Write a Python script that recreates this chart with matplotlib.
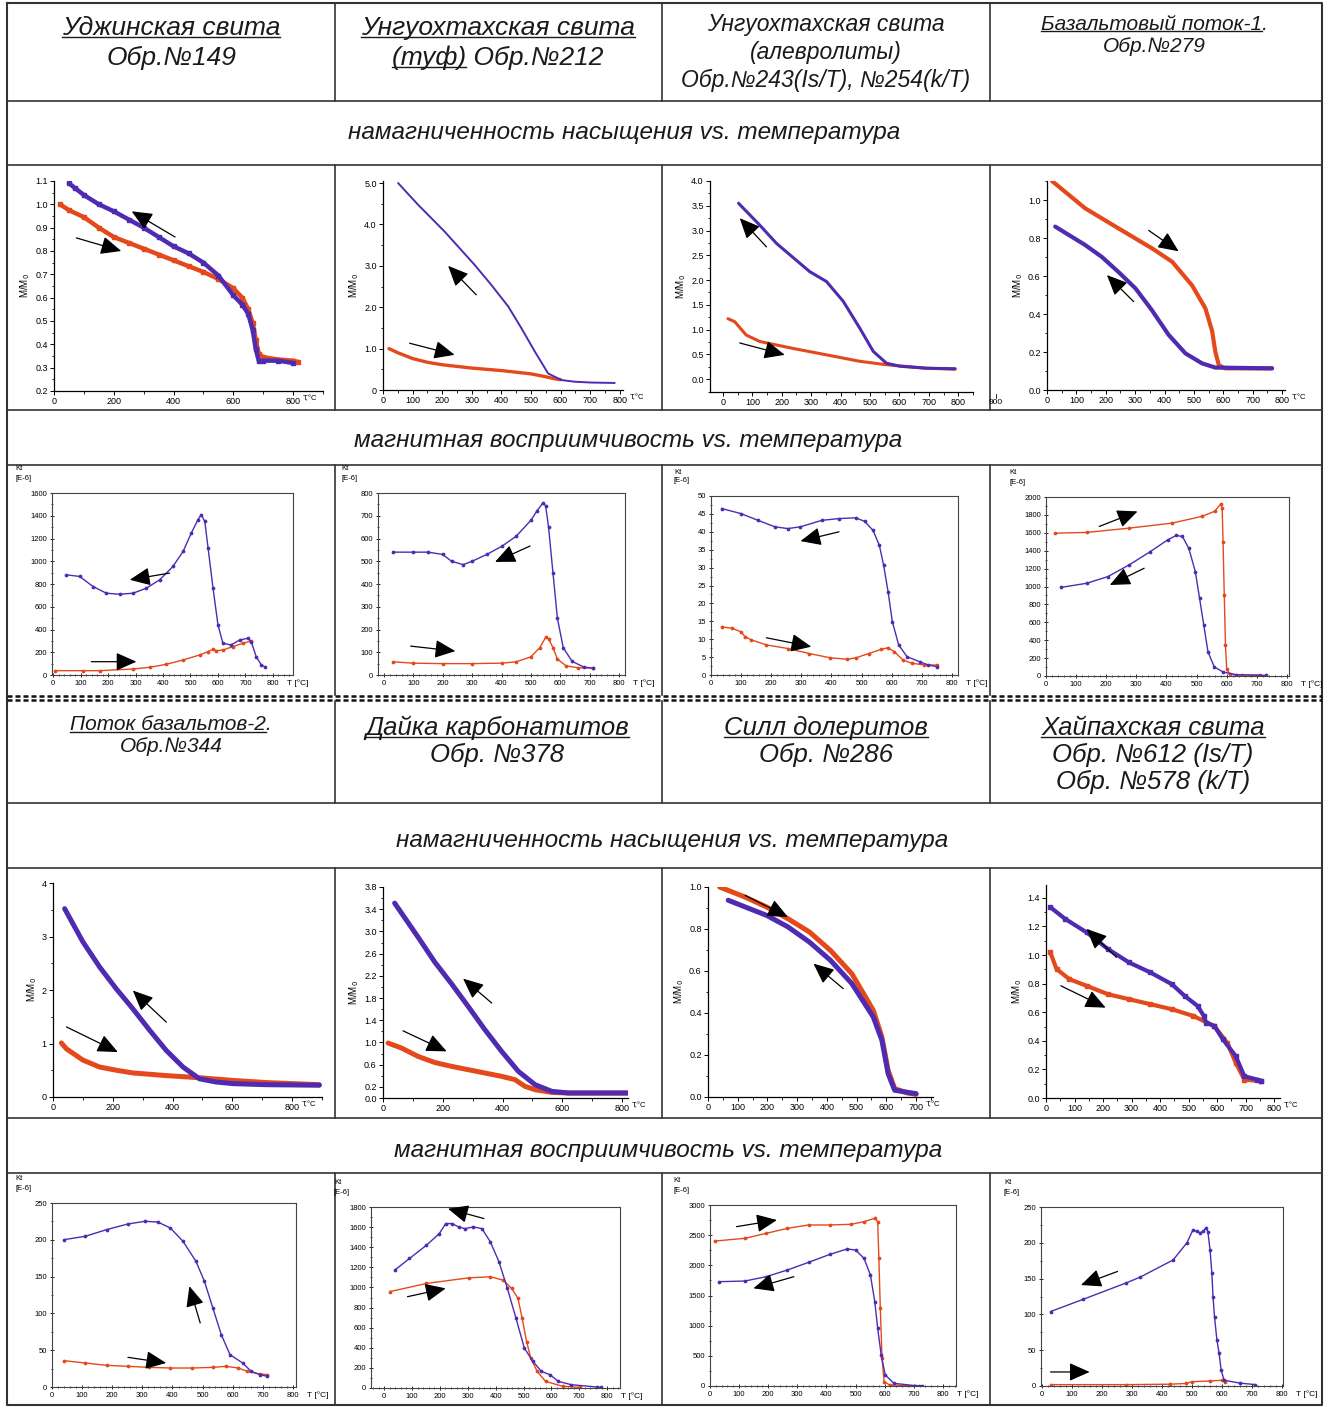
import matplotlib
matplotlib.use("Agg")
import matplotlib.pyplot as plt
from matplotlib.lines import Line2D
from matplotlib.ticker import MultipleLocator, FixedLocator, FormatStrFormatter, FuncFormatter

# ─────────────────────────────────────────────
# DATA
# heat = нагрев (orange), cool = охлаждение (purple)
# ─────────────────────────────────────────────
# 1. Уджинская свита, Is(T)
p1_heat_t = [20, 50, 100, 150, 200, 250, 300, 350, 400, 450, 500, 550, 600, 630, 650, 665, 675, 685, 700, 750, 800, 815]
p1_heat_v = [1.0, 0.975, 0.945, 0.9, 0.86, 0.835, 0.81, 0.785, 0.76, 0.735, 0.71, 0.68, 0.64, 0.6, 0.55, 0.49, 0.42, 0.36, 0.345, 0.335, 0.33, 0.325]
p1_cool_t = [800, 750, 700, 685, 675, 665, 650, 630, 600, 550, 500, 450, 400, 350, 300, 250, 200, 150, 100, 70, 50]
p1_cool_v = [0.32, 0.33, 0.33, 0.33, 0.38, 0.46, 0.53, 0.57, 0.61, 0.695, 0.75, 0.79, 0.82, 0.86, 0.9, 0.935, 0.97, 1.0, 1.04, 1.07, 1.09]
p1_arrows = [((405, 0.86), (260, 0.97)), ((75, 0.856), (225, 0.80))]

# 2. Унгуохтахская свита (туф), Is(T)
p2_heat_t = [20, 50, 100, 150, 200, 250, 300, 400, 500, 550, 580, 600]
p2_heat_v = [1.0, 0.9, 0.76, 0.67, 0.61, 0.57, 0.53, 0.47, 0.39, 0.32, 0.27, 0.25]
p2_cool_t = [783, 704, 648, 603, 558, 513, 468, 423, 366, 310, 208, 118, 51]
p2_cool_v = [0.17, 0.18, 0.2, 0.24, 0.4, 0.93, 1.49, 2.02, 2.54, 3.02, 3.83, 4.48, 5.0]
p2_arrows = [((315, 2.3), (220, 3.0)), ((90, 1.13), (242, 0.85))]

# 3. Унгуохтахская свита (алевролиты), Is(T)
p3_heat_t = [17, 40, 79, 125, 238, 352, 465, 556, 692, 789]
p3_heat_v = [1.22, 1.16, 0.89, 0.76, 0.62, 0.49, 0.36, 0.29, 0.22, 0.2]
p3_cool_t = [789, 692, 602, 556, 511, 465, 409, 352, 295, 182, 125, 53]
p3_cool_v = [0.21, 0.22, 0.26, 0.32, 0.56, 1.03, 1.57, 1.97, 2.17, 2.74, 3.11, 3.55]
p3_arrows = [((148, 2.67), (57, 3.25)), ((57, 0.73), (210, 0.49))]

# 4. Базальтовый поток-1, Is(T)
p4_heat_t = [17, 130, 244, 357, 426, 494, 539, 562, 573, 585, 607, 766]
p4_heat_v = [1.1, 0.956, 0.85, 0.746, 0.675, 0.55, 0.43, 0.31, 0.2, 0.13, 0.114, 0.114]
p4_cool_t = [766, 573, 528, 471, 414, 357, 301, 244, 187, 130, 28]
p4_cool_v = [0.114, 0.118, 0.14, 0.193, 0.29, 0.42, 0.535, 0.62, 0.7, 0.763, 0.86]
p4_arrows = [((346, 0.84), (448, 0.73)), ((295, 0.465), (204, 0.605))]

# 5. Уджинская свита, k(T)
p5_heat_t = [6, 109, 170, 291, 352, 412, 473, 533, 564, 582, 594, 618, 655, 691, 721]
p5_heat_v = [38, 38, 38, 53, 68, 94, 132, 176, 206, 226, 214, 220, 250, 279, 300]
p5_cool_t = [770, 758, 739, 721, 709, 679, 648, 618, 600, 582, 564, 552, 539, 527, 503, 473, 436, 388, 339, 291, 242, 194, 145, 97, 48]
p5_cool_v = [73, 88, 161, 294, 323, 308, 264, 279, 440, 763, 1116, 1350, 1409, 1365, 1248, 1086, 954, 837, 763, 719, 710, 719, 778, 866, 881]
p5_arrows = [((424, 896), (279, 837)), ((139, 117), (303, 117))]

# 6. Унгуохтахская свита (туф), k(T)
p6_heat_t = [30, 100, 200, 300, 400, 450, 500, 530, 550, 560, 575, 590, 620, 660, 710]
p6_heat_v = [58, 52, 50, 50, 52, 58, 80, 120, 165, 160, 120, 70, 40, 32, 30]
p6_cool_t = [710, 680, 640, 610, 590, 575, 560, 550, 540, 520, 500, 450, 400, 350, 300, 270, 230, 200, 150, 100, 30]
p6_cool_v = [30, 35, 60, 120, 250, 450, 650, 745, 755, 720, 680, 610, 565, 530, 500, 485, 500, 530, 540, 540, 540]
p6_arrows = [((497, 567), (378, 497)), ((91, 127), (243, 105))]

# 7. Унгуохтахская свита (алевролиты), k(T)
p7_heat_t = [35, 71, 99, 113, 134, 184, 255, 326, 396, 453, 481, 524, 566, 588, 609, 637, 666, 708, 750]
p7_heat_v = [13.5, 13.0, 12.1, 10.7, 9.8, 8.4, 7.4, 6.0, 4.8, 4.4, 4.8, 6.0, 7.2, 7.6, 6.5, 4.2, 3.3, 2.8, 2.8]
p7_cool_t = [750, 722, 693, 651, 623, 602, 588, 573, 559, 538, 510, 481, 425, 368, 297, 255, 212, 156, 99, 35]
p7_cool_v = [2.3, 2.8, 3.7, 5.1, 8.4, 14.9, 23.2, 30.7, 36.2, 40.4, 42.9, 43.9, 43.7, 43.2, 41.4, 40.9, 41.4, 43.2, 45.1, 46.5]
p7_arrows = [((425, 40.0), (297, 37.4)), ((184, 10.4), (333, 7.9))]

# 8. Базальтовый поток-1, k(T)
p8_heat_t = [30, 135, 276, 418, 517, 560, 580, 585, 588, 592, 596, 600, 610, 650, 710]
p8_heat_v = [1596, 1604, 1652, 1708, 1783, 1840, 1920, 1880, 1500, 900, 350, 80, 20, 10, 10]
p8_cool_t = [729, 630, 588, 559, 538, 524, 510, 496, 474, 453, 432, 404, 347, 276, 205, 135, 50]
p8_cool_v = [7, 15, 45, 101, 269, 568, 867, 1166, 1428, 1559, 1570, 1521, 1391, 1241, 1110, 1036, 990]
p8_arrows = [((177, 1671), (304, 1839)), ((326, 1204), (212, 1017))]

# 9. Поток базальтов-2, Is(T)
p9_heat_t = [28, 45, 100, 156, 212, 267, 379, 490, 602, 713, 891]
p9_heat_v = [1.01, 0.9, 0.69, 0.56, 0.5, 0.45, 0.4, 0.36, 0.31, 0.27, 0.23]
p9_cool_t = [891, 713, 602, 546, 490, 435, 379, 323, 267, 212, 156, 100, 39]
p9_cool_v = [0.22, 0.23, 0.25, 0.28, 0.34, 0.56, 0.87, 1.25, 1.65, 2.02, 2.43, 2.9, 3.52]
p9_arrows = [((379, 1.40), (267, 1.99)), ((45, 1.31), (217, 0.84))]

# 10. Дайка карбонатитов, Is(T)
p10_heat_t = [17, 62, 117, 173, 229, 285, 341, 397, 442, 475, 509, 565, 621, 822]
p10_heat_v = [0.99, 0.9, 0.75, 0.64, 0.57, 0.51, 0.45, 0.39, 0.33, 0.21, 0.15, 0.1, 0.09, 0.09]
p10_cool_t = [822, 621, 565, 509, 453, 397, 341, 285, 229, 173, 117, 39]
p10_cool_v = [0.09, 0.09, 0.12, 0.24, 0.48, 0.84, 1.23, 1.65, 2.06, 2.45, 2.9, 3.51]
p10_arrows = [((364, 1.71), (268, 2.15)), ((67, 1.21), (213, 0.84))]

# 11. Силл долеритов, Is(T)
p11_heat_t = [39, 125, 197, 269, 341, 412, 484, 556, 585, 606, 628, 671, 700]
p11_heat_v = [1.0, 0.952, 0.905, 0.849, 0.786, 0.698, 0.587, 0.413, 0.286, 0.127, 0.04, 0.019, 0.013]
p11_cool_t = [700, 628, 606, 585, 556, 484, 412, 341, 269, 197, 125, 68]
p11_cool_v = [0.016, 0.032, 0.111, 0.27, 0.381, 0.54, 0.651, 0.738, 0.81, 0.865, 0.905, 0.937]
p11_arrows = [((125, 0.96), (269, 0.857)), ((455, 0.516), (355, 0.635))]

# 12. Хайпахская свита, Is(T)
p12_heat_t = [15, 37, 82, 142, 217, 291, 366, 441, 516, 590, 635, 665, 695, 755]
p12_heat_v = [1.019, 0.902, 0.831, 0.785, 0.726, 0.691, 0.656, 0.621, 0.574, 0.503, 0.386, 0.246, 0.129, 0.117]
p12_cool_t = [755, 740, 695, 665, 620, 590, 561, 553, 531, 486, 441, 366, 291, 217, 142, 67, 15]
p12_cool_v = [0.12, 0.129, 0.152, 0.293, 0.41, 0.503, 0.527, 0.574, 0.644, 0.714, 0.796, 0.878, 0.948, 1.042, 1.159, 1.253, 1.335]
p12_arrows = [((247, 0.984), (142, 1.183)), ((52, 0.785), (209, 0.632))]

# 13. Поток базальтов-2, k(T)
p13_heat_t = [40, 110, 181, 252, 322, 393, 464, 534, 577, 619, 647, 690, 715]
p13_heat_v = [35.8, 32.6, 29.4, 28.1, 26.7, 25.8, 25.8, 26.7, 28.1, 25.8, 21.3, 17.7, 16.8]
p13_cool_t = [715, 690, 661, 633, 591, 562, 534, 506, 478, 435, 393, 351, 308, 252, 181, 110, 40]
p13_cool_v = [14.5, 16.8, 21.3, 32.6, 43.9, 71.1, 107.3, 143.6, 170.7, 197.9, 216, 224.2, 225.1, 221.5, 213.8, 204.7, 200.2]
p13_arrows = [((492, 87), (456, 137)), ((252, 40.3), (379, 32.6))]

# 14. Дайка карбонатитов, k(T)
p14_heat_t = [20, 152, 305, 381, 427, 457, 480, 495, 511, 526, 549, 579, 640, 701]
p14_heat_v = [958, 1040, 1096, 1106, 1073, 991, 892, 694, 462, 297, 165, 66, 17, 7]
p14_cool_t = [777, 762, 671, 625, 595, 564, 534, 503, 473, 442, 412, 381, 351, 320, 290, 267, 244, 221, 198, 152, 91, 38]
p14_cool_v = [7, 10, 33, 66, 132, 165, 264, 396, 694, 991, 1255, 1453, 1585, 1602, 1585, 1602, 1635, 1635, 1536, 1420, 1288, 1172]
p14_arrows = [((358, 1685), (229, 1783)), ((84, 908), (221, 991))]

# 15. Силл долеритов, k(T)
p15_heat_t = [18, 120, 193, 266, 339, 412, 485, 529, 566, 576, 580, 585, 591, 598, 617, 719]
p15_heat_v = [2403, 2448, 2530, 2613, 2669, 2669, 2680, 2724, 2779, 2724, 2116, 1287, 459, 72, 17, 0]
p15_cool_t = [727, 705, 632, 602, 588, 576, 566, 551, 529, 500, 471, 412, 339, 266, 193, 120, 32]
p15_cool_v = [6, 6, 44, 182, 514, 956, 1398, 1840, 2116, 2254, 2271, 2182, 2050, 1923, 1812, 1740, 1729]
p15_arrows = [((91, 2641), (230, 2751)), ((288, 1812), (149, 1619))]

# 16. Хайпахская свита, k(T)
p16_heat_t = [29, 281, 425, 480, 500, 560, 600, 610]
p16_heat_v = [1.9, 1.9, 2.5, 3.5, 6, 7, 8, 6]
p16_cool_t = [710, 660, 607, 597, 590, 583, 575, 570, 566, 560, 553, 547, 537, 527, 515, 503, 483, 437, 327, 281, 137, 29]
p16_cool_v = [2, 4, 8, 22, 46, 64, 96, 124, 158, 190, 215, 221, 216, 214, 216, 218, 200, 176, 152, 144, 121, 104]
p16_arrows = [((252, 160), (130, 141)), ((29, 19.6), (159, 19.6))]

# ─────────────────────────────────────────────
# STYLE / LAYOUT
# ─────────────────────────────────────────────
W, H = 1329, 1408
ORANGE = '#E4491C'
PURPLE = '#4F2BB2'
GRID = '#333333'
plt.rcParams['font.family'] = ['Liberation Sans', 'DejaVu Sans']

fig = plt.figure(figsize=(W / 100, H / 100), dpi=100)


def fx(x):
    return x / W


def fy(y):
    return 1 - y / H


def line(xs, ys, lw=1.2, color=GRID, **kw):
    fig.add_artist(Line2D([fx(x) for x in xs], [fy(y) for y in ys],
                          transform=fig.transFigure, color=color, lw=lw, **kw))


def make_axes(box):
    x0, y0, x1, y1 = box
    return fig.add_axes([fx(x0), fy(y1), (x1 - x0) / W, (y1 - y0) / H])


def draw_arrows(ax, arrows):
    for tail, head in arrows:
        ax.annotate('', xy=head, xytext=tail,
                    arrowprops=dict(arrowstyle='-|>,head_length=0.9,head_width=0.4',
                                    color='black', lw=0.9, mutation_scale=14,
                                    shrinkA=0, shrinkB=0))


def t_label(box, xlim, text, dx=10, size=5.5, at=800):
    x0, y0, x1, y1 = box
    px = x0 + (at - xlim[0]) / (xlim[1] - xlim[0]) * (x1 - x0)
    fig.text(fx(px + dx), fy(y1 + 4), text, ha='left', va='top', fontsize=size)


# ─────────────────────────────────────────────
# M/M0 PANELS
# ─────────────────────────────────────────────
def ms_panel(box, heat, cool, arrows, xlim, ylim, xticks, yticks, yfmt,
             lw=3.0, lw_cool=None, tlab=800, ms=0):
    ax = make_axes(box)
    mk = 's' if ms else None
    ax.plot(heat[0], heat[1], color=ORANGE, lw=lw, marker=mk, ms=ms, solid_capstyle='round')
    ax.plot(cool[0], cool[1], color=PURPLE, lw=lw_cool or lw, marker=mk, ms=ms, solid_capstyle='round')
    draw_arrows(ax, arrows)
    ax.set_xlim(*xlim)
    ax.set_ylim(*ylim)
    for s in ('top', 'right'):
        ax.spines[s].set_visible(False)
    for s in ('left', 'bottom'):
        ax.spines[s].set_linewidth(0.9)
    ax.xaxis.set_major_locator(FixedLocator(xticks))
    ax.xaxis.set_minor_locator(MultipleLocator((xticks[1] - xticks[0]) / 2))
    ax.yaxis.set_major_locator(FixedLocator(yticks))
    ax.yaxis.set_minor_locator(MultipleLocator((yticks[-1] - yticks[-2]) / 2))
    ax.yaxis.set_major_formatter(yfmt)
    ax.tick_params(labelsize=6.5, length=3, width=0.7, pad=1.5)
    ax.tick_params(which='minor', length=1.8, width=0.6)
    ax.set_ylabel('M/M$_0$', fontsize=7, labelpad=2)
    if tlab:
        t_label(box, xlim, 'T,°C', at=tlab)
    return ax


def fmt_zero(s):
    return FuncFormatter(lambda v, pos: '0' if v == 0 else s % v)


ms_panel((54, 181, 323, 391), (p1_heat_t, p1_heat_v), (p1_cool_t, p1_cool_v), p1_arrows,
         (0, 900), (0.2, 1.1), list(range(0, 801, 200)),
         [0.2 + 0.1 * i for i in range(10)], FormatStrFormatter('%.1f'), lw=3.2, ms=2.5)
ms_panel((383, 181, 623, 390), (p2_heat_t, p2_heat_v), (p2_cool_t, p2_cool_v), p2_arrows,
         (0, 811), (0, 5.05), list(range(0, 801, 100)),
         [0, 1, 2, 3, 4, 5], fmt_zero('%.1f'), lw=2.4, lw_cool=1.4)
ms_panel((710, 181, 973, 392), (p3_heat_t, p3_heat_v), (p3_cool_t, p3_cool_v), p3_arrows,
         (-44, 850), (-0.26, 4.0), list(range(0, 801, 100)),
         [0.5 * i for i in range(9)], FormatStrFormatter('%.1f'), lw=2.2, tlab=None)
ms_panel((1047, 181, 1285, 390), (p4_heat_t, p4_heat_v), (p4_cool_t, p4_cool_v), p4_arrows,
         (0, 810), (0, 1.1), list(range(0, 801, 100)),
         [0.2 * i for i in range(6)], FormatStrFormatter('%.1f'), lw=3.0)
fig.text(fx(996), fy(403), '900', ha='center', va='center', fontsize=6)
line([996, 996], [394, 398], lw=0.7)

ms_panel((53, 883, 322, 1097), (p9_heat_t, p9_heat_v), (p9_cool_t, p9_cool_v), p9_arrows,
         (0, 900), (0, 4), list(range(0, 801, 200)),
         [0, 1, 2, 3, 4], FormatStrFormatter('%d'), lw=3.6)
ms_panel((383, 887, 628, 1098), (p10_heat_t, p10_heat_v), (p10_cool_t, p10_cool_v), p10_arrows,
         (0, 820), (0, 3.8), list(range(0, 801, 200)),
         [0.0, 0.2, 0.6, 1.0, 1.4, 1.8, 2.2, 2.6, 3.0, 3.4, 3.8], FormatStrFormatter('%.1f'), lw=3.6)
ms_panel((708, 887, 933, 1097), (p11_heat_t, p11_heat_v), (p11_cool_t, p11_cool_v), p11_arrows,
         (0, 757), (0, 1.0), list(range(0, 701, 100)),
         [0.2 * i for i in range(6)], FormatStrFormatter('%.1f'), lw=3.6, tlab=700)
ms_panel((1046, 885, 1280, 1098), (p12_heat_t, p12_heat_v), (p12_cool_t, p12_cool_v), p12_arrows,
         (0, 820), (0, 1.49), list(range(0, 801, 100)),
         [0.2 * i for i in range(8)], FormatStrFormatter('%.1f'), lw=3.0, ms=2.5)


# ─────────────────────────────────────────────
# k(T) PANELS
# ─────────────────────────────────────────────
def kt_panel(box, heat, cool, arrows, xlim, ymax, ystep):
    ax = make_axes(box)
    ax.plot(heat[0], heat[1], color=ORANGE, lw=1.0, marker='o', ms=1.7)
    ax.plot(cool[0], cool[1], color=PURPLE, lw=1.0, marker='o', ms=1.7)
    draw_arrows(ax, arrows)
    ax.set_xlim(*xlim)
    ax.set_ylim(0, ymax)
    for s in ax.spines.values():
        s.set_linewidth(0.8)
        s.set_color('#444444')
    ax.set_xticks(range(0, 801, 100))
    ax.xaxis.set_minor_locator(MultipleLocator(20))
    ax.yaxis.set_major_locator(MultipleLocator(ystep))
    ax.yaxis.set_minor_locator(MultipleLocator(ystep / 2))
    ax.tick_params(labelsize=5.5, length=3, width=0.6, pad=2, direction='inout')
    ax.tick_params(which='minor', length=2, width=0.5, direction='inout')
    x0, y0, x1, y1 = box
    fig.text(fx(x0 - 37), fy(y0 - 24), 'Kt', ha='left', va='center', fontsize=5.5)
    fig.text(fx(x0 - 37), fy(y0 - 15), '[E-6]', ha='left', va='center', fontsize=5.5)
    t_label(box, xlim, 'T [°C]', dx=14, size=6)
    return ax


kt_panel((52, 493, 293, 675), (p5_heat_t, p5_heat_v), (p5_cool_t, p5_cool_v), p5_arrows, (-4, 873), 1600, 200)
kt_panel((378, 493, 625, 675), (p6_heat_t, p6_heat_v), (p6_cool_t, p6_cool_v), p6_arrows, (-20, 820), 800, 100)
kt_panel((711, 496, 958, 675), (p7_heat_t, p7_heat_v), (p7_cool_t, p7_cool_v), p7_arrows, (0, 820), 50, 5)
kt_panel((1046, 497, 1289, 676), (p8_heat_t, p8_heat_v), (p8_cool_t, p8_cool_v), p8_arrows, (0, 807), 2000, 200)
kt_panel((52, 1203, 296, 1387), (p13_heat_t, p13_heat_v), (p13_cool_t, p13_cool_v), p13_arrows, (0, 810), 250, 50)
kt_panel((371, 1207, 620, 1388), (p14_heat_t, p14_heat_v), (p14_cool_t, p14_cool_v), p14_arrows, (-47, 846), 1800, 200)
kt_panel((710, 1205, 956, 1386), (p15_heat_t, p15_heat_v), (p15_cool_t, p15_cool_v), p15_arrows, (0, 845), 3000, 500)
kt_panel((1041, 1207, 1283, 1386), (p16_heat_t, p16_heat_v), (p16_cool_t, p16_cool_v), p16_arrows, (-3, 803), 250, 50)

# ─────────────────────────────────────────────
# TABLE GRID
# ─────────────────────────────────────────────
L, R, T, B = 7, 1322, 3, 1405
line([L, R, R, L, L], [T, T, B, B, T], lw=1.5)
for y in (101, 165, 410, 465, 803, 868, 1118, 1173):
    line([L, R], [y, y], lw=1.2)
for y in (696, 700):
    line([L, R], [y, y], lw=1.8, linestyle=(0, (2, 1.2)), color='#111111')
for x in (335, 662, 990):
    for ya, yb in ((T, 101), (165, 410), (465, 695), (701, 803), (868, 1118), (1173, B)):
        line([x, x], [ya, yb], lw=1.2)

# ─────────────────────────────────────────────
# TEXT
# ─────────────────────────────────────────────
underlined = []


def htext(x, y, s, size, ul=False, part=None):
    t = fig.text(fx(x), fy(y), s, ha='center', va='center', fontsize=size,
                 style='italic', color='#1a1a1a')
    if ul:
        underlined.append((t, part, size))
    return t


htext(171, 28, 'Уджинская свита', 19, ul=True)
htext(171, 58, 'Обр.№149', 19)
htext(498, 28, 'Унгуохтахская свита', 19, ul=True)
htext(498, 58, '(туф) Обр.№212', 19, ul=True, part='(туф)')
htext(826, 24, 'Унгуохтахская свита', 16.5)
htext(826, 52, '(алевролиты)', 16.5)
htext(826, 80, 'Обр.№243(Is/T), №254(k/T)', 16.5)
htext(1154, 24, 'Базальтовый поток-1.', 15, ul=True, part='Базальтовый поток-1')
htext(1154, 47, 'Обр.№279', 15)

htext(624, 133, 'намагниченность насыщения vs. температура', 17.5)
htext(628, 441, 'магнитная восприимчивость vs. температура', 17.5)

htext(171, 725, 'Поток базальтов-2.', 15, ul=True, part='Поток базальтов-2')
htext(171, 747, 'Обр.№344', 15)
htext(497, 728, 'Дайка карбонатитов', 18.5, ul=True)
htext(497, 755, 'Обр. №378', 18.5)
htext(826, 728, 'Силл долеритов', 18.5, ul=True)
htext(826, 755, 'Обр. №286', 18.5)
htext(1153, 728, 'Хайпахская свита', 18.5, ul=True)
htext(1153, 755, 'Обр. №612 (Is/T)', 18.5)
htext(1153, 782, 'Обр. №578 (k/T)', 18.5)

htext(672, 840, 'намагниченность насыщения vs. температура', 17.5)
htext(668, 1150, 'магнитная восприимчивость vs. температура', 17.5)

# underlines need real text extents
fig.canvas.draw()
rend = fig.canvas.get_renderer()
for t, part, size in underlined:
    bb = t.get_window_extent(rend)
    x0, x1 = bb.x0, bb.x1
    if part:
        tmp = fig.text(0, 0, part, fontsize=size, style='italic')
        x1 = x0 + tmp.get_window_extent(rend).width
        tmp.remove()
    yl = bb.y0 + 0.12 * bb.height
    fig.add_artist(Line2D([x0 / W, x1 / W], [yl / H, yl / H], transform=fig.transFigure,
                          color='#1a1a1a', lw=1.0))

fig.savefig('out.png', dpi=100)
